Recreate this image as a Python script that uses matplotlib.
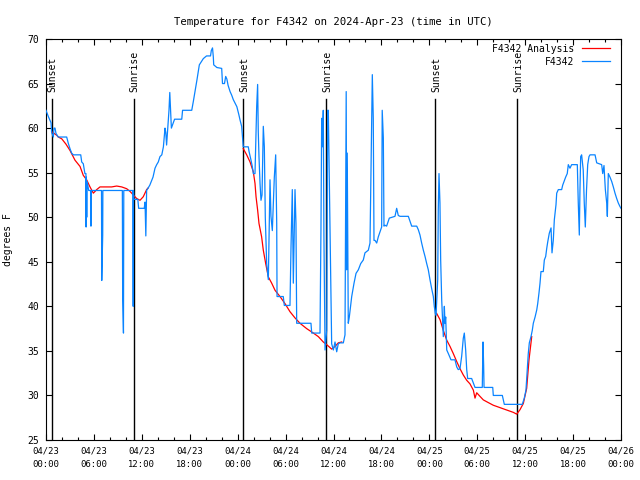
import numpy as np
import matplotlib
matplotlib.use('Agg')
from matplotlib import pyplot as plt
from matplotlib.ticker import MultipleLocator

# hours since 04/23 00:00 UTC and temperature (deg F)
obs_hours = [
    0.00, 0.29, 0.63, 0.71, 0.92, 1.00, 1.13, 1.25, 1.54, 2.59, 2.79, 3.00, 3.21, 3.42,
    4.35, 4.47, 4.67, 4.87, 5.00, 5.02, 5.05, 5.10, 5.15, 5.35, 5.60, 5.63, 5.66, 6.95,
    6.98, 7.10, 7.12, 9.56, 9.60, 9.70, 9.74, 10.88, 10.92, 10.95, 11.00, 11.50, 11.60,
    12.30, 12.40, 12.50, 12.60, 13.00, 13.40, 13.65, 13.86, 14.06, 14.27, 14.50, 14.70,
    14.80, 14.90, 15.00, 15.10, 15.20, 15.40, 15.50, 15.60, 15.70, 15.90, 16.10, 17.00,
    17.10, 18.25, 18.45, 18.90, 19.20, 19.70, 20.10, 20.60, 20.70, 20.85, 20.95, 21.00,
    21.40, 22.00, 22.10, 22.35, 22.50, 22.65, 22.80, 23.05, 23.25, 23.45, 23.90, 24.15,
    24.30, 24.50, 24.60, 24.70,
    25.33, 25.42, 25.67, 25.83, 25.96, 26.17, 26.38, 26.50, 26.58, 26.67, 26.80, 26.92,
    27.05, 27.21, 27.34, 27.46, 27.63, 27.84, 28.05, 28.17, 28.34, 28.59, 28.76, 28.89,
    28.93, 29.71, 29.84, 30.55, 30.68, 30.84, 30.97, 31.18, 31.30, 31.39, 33.18, 33.27,
    34.31, 34.43, 34.52, 34.60, 34.72, 34.80, 34.94, 35.15, 35.27, 35.35, 35.56, 35.77,
    35.98, 36.19, 36.40, 36.60, 36.81, 37.23, 37.44, 37.59, 37.65, 37.72, 37.85, 37.98,
    38.28, 38.57, 38.82, 39.11, 39.41, 39.73, 39.94, 40.36, 40.57, 40.78, 40.86, 40.98,
    41.07, 41.20, 41.41, 41.61, 42.03, 42.10, 42.24, 42.32, 42.44, 42.65, 42.99, 43.70,
    43.91, 44.11, 44.33, 45.37, 45.79, 46.42, 46.62, 46.83, 47.04, 47.25, 47.46, 47.67,
    47.87, 48.08, 48.29, 48.50, 48.62, 48.75,
    48.84, 49.05, 49.12, 49.21, 49.33, 49.42, 49.55, 49.75, 49.88, 49.96, 50.05, 50.18,
    50.38, 50.71, 51.21, 51.43, 51.62, 51.84, 52.05, 52.25, 52.38, 52.55, 52.68, 52.80,
    53.30, 53.51, 53.72, 54.63, 54.72, 54.80, 54.85, 55.94, 56.01, 57.14, 57.39, 59.64,
    59.89, 60.10, 60.27, 60.39, 60.52, 60.73, 60.89, 61.02, 61.24, 61.45, 61.57, 61.73,
    61.86, 61.98, 62.27, 62.40, 62.57, 62.70, 62.82, 63.02, 63.24, 63.36, 63.52, 63.65,
    63.86, 63.95, 64.15, 64.57, 64.70, 64.86, 65.07, 65.27, 65.40, 65.61, 65.82, 66.53,
    66.65, 66.78, 66.86, 66.95, 67.07, 67.27, 67.40, 67.53, 67.68, 67.83, 67.99, 68.12,
    68.75, 68.96, 69.58, 69.71, 69.87, 70.04, 70.21, 70.29, 70.41, 70.62, 70.84, 71.04,
    71.25, 71.46, 71.66, 71.87, 72.00,
]
obs_temps = [
    62.0, 61.3, 60.6, 59.5, 59.0, 60.0, 60.0, 59.4, 59.0, 59.0, 58.3, 57.7, 57.2, 57.0,
    57.0, 56.2, 56.0, 54.9, 54.9, 48.9, 54.5, 50.0, 54.0, 53.0, 53.0, 49.0, 53.0, 53.0,
    42.9, 48.0, 53.0, 53.0, 41.0, 37.0, 53.0, 53.0, 40.0, 53.0, 52.0, 52.0, 51.0,
    51.0, 51.7, 47.9, 53.0, 53.6, 54.5, 55.5, 55.9, 56.2, 56.8, 57.0, 57.9,
    59.0, 60.0, 59.5, 58.1, 59.4, 62.0, 64.0, 62.0, 60.0, 60.5, 61.0, 61.0,
    62.0, 62.0, 63.0, 65.4, 67.1, 67.8, 68.1, 68.1, 68.7, 69.0, 68.0, 67.1,
    66.8, 66.7, 65.0, 65.0, 65.8, 65.5, 64.8, 64.1, 63.7, 63.2, 62.4, 61.5,
    60.9, 60.2, 59.0, 57.9,
    57.9, 57.4, 56.4, 55.7, 54.9, 54.9, 62.4, 64.9, 59.6, 56.8, 53.8, 51.9,
    52.5, 60.2, 57.9, 50.0, 44.8, 43.0, 54.2, 50.1, 48.5, 54.5, 57.0, 49.3,
    41.1, 41.1, 40.1, 40.1, 46.7, 53.1, 42.6, 53.1, 49.3, 38.1, 38.1, 37.0,
    37.0, 48.6, 61.1, 57.9, 62.0, 48.0, 35.1, 37.3, 62.0, 62.0, 48.9, 35.8,
    35.1, 36.0, 34.9, 35.8, 35.9, 35.9, 36.8, 64.1, 44.1, 57.2, 38.1, 38.8,
    41.1, 42.6, 43.7, 44.1, 44.8, 45.2, 46.0, 46.3, 47.1, 61.2, 66.0, 61.1,
    47.4, 47.4, 47.1, 47.8, 48.9, 62.0, 58.9, 49.0, 49.1, 49.0, 49.9, 50.1,
    51.0, 50.2, 50.1, 50.1, 49.0, 49.0, 48.6, 48.0, 47.1, 46.3, 45.6, 44.8,
    44.1, 43.0, 42.0, 41.1, 40.0, 39.2,
    39.0, 43.0, 50.8, 54.9, 51.6, 45.2, 40.7, 36.6, 40.0, 38.1, 38.8, 35.1,
    34.7, 34.0, 34.0, 33.2, 32.9, 33.0, 34.4, 36.4, 37.0, 35.1, 32.9, 31.9,
    31.9, 31.4, 30.9, 30.9, 36.0, 33.4, 30.9, 30.9, 30.0, 30.0, 29.0, 29.0,
    29.7, 30.6, 32.9, 34.7, 35.9, 36.6, 37.3, 38.1, 38.8, 39.6, 40.3, 41.5,
    42.6, 43.9, 43.9, 45.2, 45.6, 46.5, 47.2, 48.2, 48.8, 46.0, 47.4, 49.7,
    51.4, 52.7, 53.1, 53.1, 53.6, 54.0, 54.5, 54.9, 55.9, 55.5, 55.9, 55.9,
    51.6, 48.0, 53.0, 56.8, 57.0, 55.3, 51.6, 48.9, 53.0, 55.9, 56.8, 57.0,
    57.0, 56.1, 55.9, 54.9, 55.8, 53.1, 51.6, 50.1, 54.9, 54.5, 54.0, 53.4,
    52.7, 52.1, 51.6, 51.2, 51.0,
]

# analysis curve, one segment per night (nan breaks the line)
ana_hours = [
    0.71, 1.34, 1.54, 1.97, 2.50, 3.00, 3.63, 4.26, 4.67, 5.09, 5.51, 5.93, 6.35, 6.76,
    7.60, 8.22, 8.85, 9.48, 10.10, 10.52, 10.93, 11.35, 11.77, 12.18, 12.60, 12.81, np.nan,
    24.70, 25.13, 25.55, 25.96, 26.17, 26.30, 26.50, 26.67, 27.00, 27.21, 27.51, 27.84,
    28.26, 28.68, 29.30, 29.93, 30.55, 31.18, 31.80, 32.64, 33.48, 34.10, 34.72, 35.15,
    35.77, 36.19, 36.60, 37.03, np.nan,
    48.92, 49.34, 49.75, 50.18, 50.59, 51.00, 51.43, 51.84, 52.25, 52.68, 53.09, 53.51,
    53.72, 53.93, 54.34, 54.76, 55.38, 56.01, 56.64, 57.26, 57.89, 58.52, 58.94, 59.35,
    59.77, 60.19, 60.48, 60.82,
]
ana_temps = [
    59.6, 59.2, 59.0, 58.8, 58.2, 57.5, 56.4, 55.7, 54.7, 54.2, 53.4, 52.7, 53.1, 53.4,
    53.4, 53.4, 53.5, 53.4, 53.2, 52.9, 52.5, 52.1, 51.9, 52.3, 53.1, 53.3, np.nan,
    57.7, 57.0, 56.2, 55.1, 53.8, 52.3, 50.8, 49.3, 47.8, 46.3, 44.8, 43.3,
    42.6, 41.8, 41.1, 40.3, 39.4, 38.7, 38.1, 37.5, 37.0, 36.6, 36.0, 35.7,
    35.2, 35.5, 35.9, 36.0, np.nan,
    39.2, 38.5, 37.3, 36.2, 35.5, 34.7, 33.8, 33.0, 32.3, 31.7, 31.3, 30.6,
    29.7, 30.3, 29.9, 29.5, 29.2, 28.9, 28.7, 28.5, 28.3, 28.1, 27.9, 28.4,
    29.1, 30.8, 34.0, 36.6,
]

sunset_hours = [0.71, 24.70, 48.75]
sunrise_hours = [11.02, 35.10, 59.02]
sun_line_top = 63.3
sun_label_base = 64.0

tick_hours = list(range(0, 73, 6))
tick_labels = ['04/23\n00:00', '04/23\n06:00', '04/23\n12:00', '04/23\n18:00',
               '04/24\n00:00', '04/24\n06:00', '04/24\n12:00', '04/24\n18:00',
               '04/25\n00:00', '04/25\n06:00', '04/25\n12:00', '04/25\n18:00',
               '04/26\n00:00']

plt.rcParams['font.family'] = ['DejaVu Sans Mono']
plt.rcParams['font.size'] = 6.4

fig = plt.figure(figsize=(6.4, 4.8), dpi=100)
ax = fig.add_axes([46 / 640, 40 / 480, 575 / 640, 401 / 480])

for h in sunset_hours:
    ax.plot([h, h], [25, sun_line_top], color='black', lw=1.0, zorder=1)
    ax.text(h + 0.1, sun_label_base, 'Sunset', rotation=90, ha='center', va='bottom',
            fontsize=7)
for h in sunrise_hours:
    ax.plot([h, h], [25, sun_line_top], color='black', lw=1.0, zorder=1)
    ax.text(h + 0.1, sun_label_base, 'Sunrise', rotation=90, ha='center', va='bottom',
            fontsize=7)

ax.plot(ana_hours, ana_temps, color='#ff0000', lw=0.9, label='F4342 Analysis', zorder=2)
ax.plot(obs_hours, obs_temps, color='#0a84ff', lw=0.9, label='F4342', zorder=3)

ax.set_xlim(0, 72)
ax.set_ylim(25, 70)
ax.set_xticks(tick_hours)
ax.set_xticklabels(tick_labels, linespacing=1.6)
ax.xaxis.set_minor_locator(MultipleLocator(2))
ax.set_yticks(range(25, 71, 5))
ax.tick_params(which='both', direction='in', top=True, right=True, width=0.8)
ax.tick_params(which='major', length=4.5, pad=5)
ax.tick_params(axis='y', which='major', labelsize=7)
ax.tick_params(which='minor', length=2.5)
for s in ax.spines.values():
    s.set_linewidth(0.8)

ax.set_ylabel('degrees F', labelpad=10, fontsize=7)
ax.set_title('Temperature for F4342 on 2024-Apr-23 (time in UTC)', pad=10)

ax.legend(loc='upper right', bbox_to_anchor=(0.981, 0.988), frameon=False,
          markerfirst=False, handlelength=2.9, handletextpad=0.8, borderaxespad=0,
          borderpad=0, labelspacing=0.3, fontsize=7)

fig.savefig('out.png', dpi=100, facecolor='w')
